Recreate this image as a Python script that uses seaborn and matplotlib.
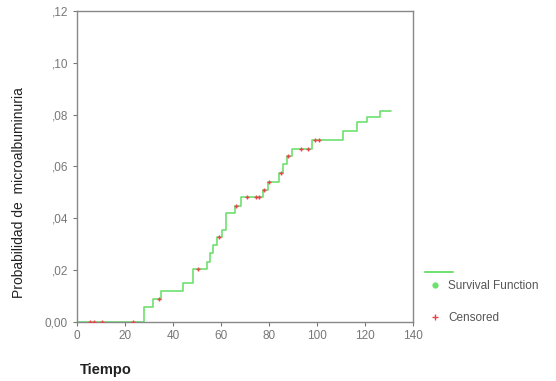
import matplotlib
matplotlib.use("Agg")
import matplotlib.pyplot as plt
import seaborn as sns
import pandas as pd
from matplotlib.lines import Line2D

# step function (time of event, cumulative probability after it)
step_time = [0, 27.9, 31.8, 35.0, 44.3, 48.2, 54.0, 55.4, 56.5, 58.2, 60.3, 62.0,
             66.0, 68.5, 77.6, 79.7, 84.2, 86.0, 87.5, 89.4, 98.0, 110.7, 116.8,
             120.7, 126.3, 130.7]
step_prob = [0, 0.0058, 0.0089, 0.0120, 0.0149, 0.0204, 0.0233, 0.0265, 0.0297,
             0.0327, 0.0355, 0.0419, 0.0449, 0.0481, 0.0509, 0.0541, 0.0574, 0.0608,
             0.0640, 0.0667, 0.0702, 0.0737, 0.0773, 0.0792, 0.0814, 0.0814]

# censored cases
cens_time = [5.4, 7.2, 10.5, 23.2, 34.0, 50.3, 59.2, 66.3, 71.0, 74.4, 76.0, 78.0,
             80.0, 85.0, 88.0, 93.2, 96.1, 99.2, 101.0]
cens_prob = [0, 0, 0, 0, 0.0089, 0.0204, 0.0327, 0.0449, 0.0481, 0.0481, 0.0481,
             0.0509, 0.0541, 0.0574, 0.0640, 0.0667, 0.0667, 0.0702, 0.0702]

x_ticks = [0, 20, 40, 60, 80, 100, 120, 140]
y_ticks = [0.00, 0.02, 0.04, 0.06, 0.08, 0.10, 0.12]
y_tick_labels = ["0,00", ",02", ",04", ",06", ",08", ",10", ",12"]

sns.set_style("white")
plt.rcParams["font.family"] = ["Liberation Sans", "DejaVu Sans"]

green = "#6ee06e"
red = "#e8454a"
gray = "#777777"

steps = pd.DataFrame({"t": step_time, "p": step_prob})
cens = pd.DataFrame({"t": cens_time, "p": cens_prob})

fig = plt.figure(figsize=(5.56, 3.81), dpi=100)
ax = fig.add_axes([0.1385, 0.1549, 0.6043, 0.8162])

sns.lineplot(data=steps, x="t", y="p", ax=ax, color=green, lw=1.2,
             drawstyle="steps-post", estimator=None)
sns.scatterplot(data=cens, x="t", y="p", ax=ax, color=red, marker="+",
                s=12, linewidth=1.0, zorder=3)

ax.set_xlim(0, 140)
ax.set_ylim(0, 0.12)
ax.set_xticks(x_ticks)
ax.set_xticklabels([str(v) for v in x_ticks])
ax.set_yticks(y_ticks)
ax.set_yticklabels(y_tick_labels)
ax.tick_params(axis="both", colors=gray, labelsize=8.5, length=3, width=0.8,
               direction="out", bottom=True, left=True)
ax.tick_params(axis="x", pad=3)
for s in ax.spines.values():
    s.set_color("#888888")
    s.set_linewidth(1.0)

ax.set_xlabel("")
ax.set_ylabel("")
fig.text(0.143, 0.018, "Tiempo", fontsize=10.5, fontweight="bold", color="#222222")
fig.text(0.035, 0.495, "Probabilidad de  microalbuminuria", fontsize=10,
         rotation=90, va="center", ha="center", color="#222222")

# legend: the line sample sits alone above the two labelled entries
leg1 = fig.legend([Line2D([], [], color=green, lw=1.2)], [""], loc="center left",
                  bbox_to_anchor=(0.745, 1 - 273 / 381), frameon=False,
                  fontsize=8.5, handlelength=2.4, handletextpad=0.2)
fig.add_artist(leg1)
handles = [
    Line2D([], [], color=green, marker="o", ls="none", markersize=3.5),
    Line2D([], [], color=red, marker="+", ls="none", markersize=4),
]
labels = ["Survival Function", "Censored"]
fig.legend(handles, labels, loc="center left",
           bbox_to_anchor=(0.745, 1 - 302 / 381), frameon=False, fontsize=8.5,
           handlelength=1.8, labelspacing=1.7, handletextpad=0.2,
           labelcolor="#555555")

fig.savefig("out.png", dpi=100)
